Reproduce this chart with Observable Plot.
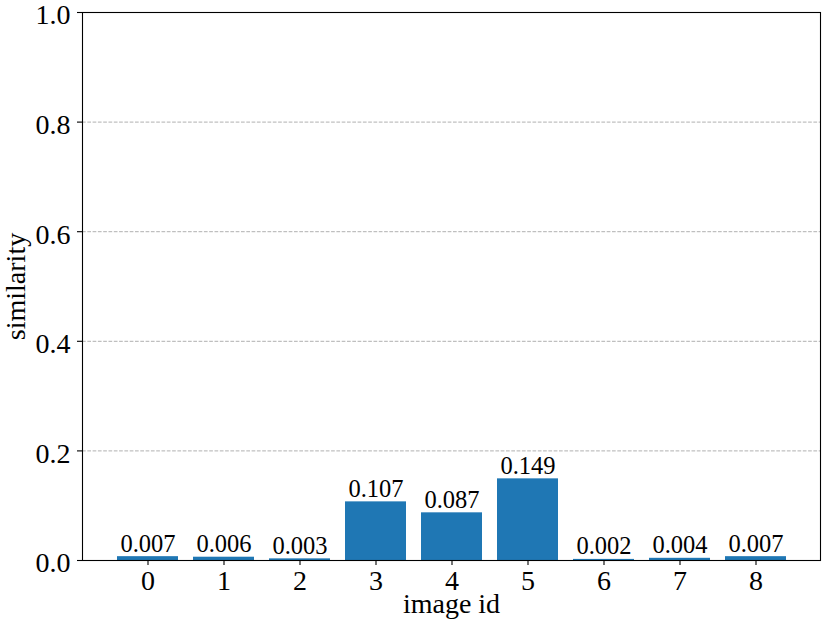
<!DOCTYPE html>
<html>
<head>
<meta charset="utf-8">
<script src="https://cdn.jsdelivr.net/npm/d3@7"></script>
<script src="https://cdn.jsdelivr.net/npm/@observablehq/plot@0.6"></script>
<style>
  html, body { margin: 0; padding: 0; background: #fff; }
  svg { display: block; }
</style>
</head>
<body>
<div id="chart"></div>
<script>
const imageIds = [0, 1, 2, 3, 4, 5, 6, 7, 8];
const similarity = [0.007, 0.006, 0.003, 0.107, 0.087, 0.149, 0.002, 0.004, 0.007];
const yTicks = [0, 0.2, 0.4, 0.6, 0.8, 1.0];
const gridTicks = [0.2, 0.4, 0.6, 0.8];

const data = imageIds.map((id, i) => ({id, value: similarity[i]}));

const chart = Plot.plot({
  width: 830,
  height: 623,
  marginLeft: 82,
  marginRight: 10,
  marginTop: 12,
  marginBottom: 63,
  style: {fontFamily: "'Liberation Serif', 'Times New Roman', serif", fontSize: "28px", color: "#000", background: "#fff"},
  x: {type: "band", domain: imageIds, paddingInner: 0.2, paddingOuter: 0.44, label: null},
  y: {domain: [0, 1], label: null},
  marks: [
    Plot.ruleY(gridTicks, {stroke: "#b0b0b0", strokeWidth: 1, strokeDasharray: "3.7,1.6"}),
    Plot.barY(data, {x: "id", y: "value", fill: "#1f77b4"}),
    Plot.text(data, {x: "id", y: "value", text: d => d.value.toFixed(3), lineAnchor: "bottom", dy: -5, fontSize: 24.5, fill: "#000"}),
    Plot.frame({stroke: "#000", strokeWidth: 1.1}),
    Plot.axisX({ticks: imageIds, tickSize: 5, tickPadding: 5, tickFormat: d => String(d), stroke: "#000", strokeWidth: 1.1, fontSize: 28, label: "image id", labelAnchor: "center", labelArrow: "none", labelOffset: 52}),
    Plot.axisY({ticks: yTicks, tickSize: 5, tickFormat: () => "", stroke: "#000", strokeWidth: 1.1, label: null}),
    Plot.axisY({ticks: yTicks, tickSize: 0, tickPadding: 12, dy: 3, tickFormat: d3.format(".1f"), fontSize: 28, label: null}),
    Plot.axisY({ticks: [], label: "similarity", labelAnchor: "center", labelArrow: "none", labelOffset: 77, fontSize: 28, tickSize: 0})
  ]
});
document.getElementById("chart").appendChild(chart);
</script>
</body>
</html>
